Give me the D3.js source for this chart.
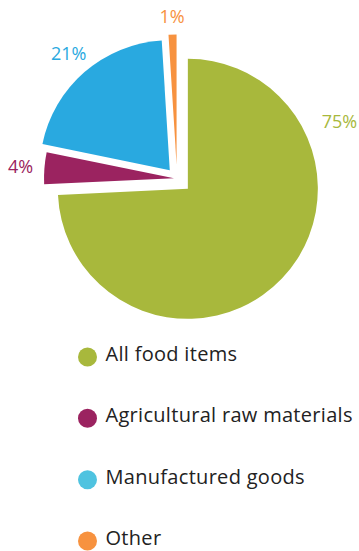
<!DOCTYPE html>
<html>
<head>
<meta charset="utf-8">
<script src="https://cdn.jsdelivr.net/npm/d3@7"></script>
<style>
  html, body { margin: 0; padding: 0; background: #fff; }
  svg { display: block; font-family: "Open Sans", sans-serif; }
</style>
</head>
<body>
<svg id="chart" width="359" height="551"></svg>
<script>
// data
const categories = ['All food items', 'Agricultural raw materials', 'Manufactured goods', 'Other'];
const shares = [75, 4, 21, 1];
const labels = ['75%', '4%', '21%', '1%'];

// styling / layout
const sliceColors = ['#a8b83c', '#9b2360', '#29a9e0', '#f7923f'];
const legendColors = ['#a8b83c', '#9b2360', '#4fc3e0', '#f7923f'];
const explode = [15, 3, 11, 14];        // px, along each slice's bisector
const CX = 177, CY = 178.5, R = 130;

const svg = d3.select('#chart');

const pie = d3.pie().sort(null).value(d => d);
const arcs = pie(shares);
const arc = d3.arc().innerRadius(0).outerRadius(R);

const offsetOf = (d, dist) => {
  const a = (d.startAngle + d.endAngle) / 2;
  return [Math.sin(a) * dist, -Math.cos(a) * dist];
};

const g = svg.append('g').attr('transform', `translate(${CX},${CY})`);

g.selectAll('path.slice')
  .data(arcs)
  .join('path')
  .attr('class', 'slice')
  .attr('d', arc)
  .attr('fill', (d, i) => sliceColors[i])
  .attr('transform', (d, i) => {
    const [dx, dy] = offsetOf(d, explode[i]);
    return `translate(${dx},${dy})`;
  });

// labels: outside each slice, food label nudged up to the right
const labelAngle = i => i === 0 ? 66 * Math.PI / 180 : null;
const labelDist = i => i === 0 ? 166 : (i === 3 ? 148 : 154);

g.selectAll('text.pct')
  .data(arcs)
  .join('text')
  .attr('class', 'pct')
  .attr('text-anchor', 'middle')
  .attr('dy', '0.36em')
  .attr('font-size', 18)
  .attr('fill', (d, i) => sliceColors[i])
  .attr('transform', (d, i) => {
    const [ox, oy] = offsetOf(d, explode[i]);
    const a = labelAngle(i) ?? (d.startAngle + d.endAngle) / 2;
    const r = labelDist(i);
    return `translate(${ox + Math.sin(a) * r},${oy - Math.cos(a) * r})`;
  })
  .text((d, i) => labels[i]);

// legend
const legendY = d3.scalePoint().domain(categories).range([357, 541]);

const legend = svg.append('g').attr('class', 'legend');
const item = legend.selectAll('g')
  .data(categories)
  .join('g')
  .attr('transform', d => `translate(87.5,${legendY(d)})`);

item.append('circle')
  .attr('r', 9.5)
  .attr('fill', (d, i) => legendColors[i]);

item.append('text')
  .attr('x', 18)
  .attr('dy', '0.2em')
  .attr('font-size', 20)
  .attr('letter-spacing', 0.3)
  .attr('fill', '#222')
  .text(d => d);
</script>
</body>
</html>
